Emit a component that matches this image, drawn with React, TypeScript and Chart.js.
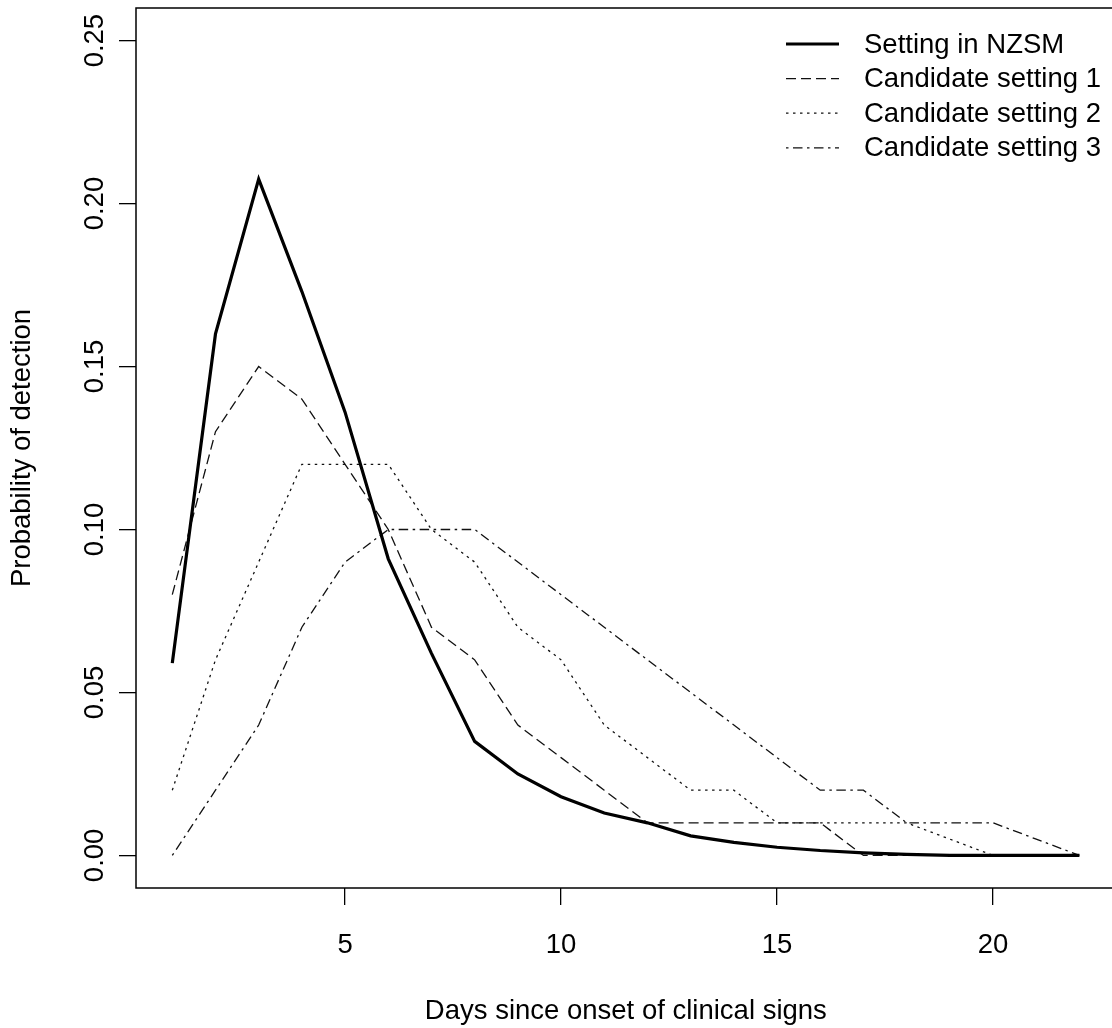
import React, { useEffect, useRef } from "react";
import { Chart, registerables } from "chart.js";

Chart.register(...registerables);

const days = [1, 2, 3, 4, 5, 6, 7, 8, 9, 10, 11, 12, 13, 14, 15, 16, 17, 18, 19, 20, 21, 22];
const settingNZSM = [0.059, 0.16, 0.2075, 0.173, 0.136, 0.091, 0.062, 0.035, 0.025, 0.018, 0.013, 0.01, 0.006, 0.004, 0.0025, 0.0015, 0.0008, 0.0003, 0, 0, 0, 0];
const candidate1 = [0.08, 0.13, 0.15, 0.14, 0.12, 0.1, 0.07, 0.06, 0.04, 0.03, 0.02, 0.01, 0.01, 0.01, 0.01, 0.01, 0, 0, 0, 0, 0, 0];
const candidate2 = [0.02, 0.06, 0.09, 0.12, 0.12, 0.12, 0.1, 0.09, 0.07, 0.06, 0.04, 0.03, 0.02, 0.02, 0.01, 0.01, 0.01, 0.01, 0.005, 0, 0, 0];
const candidate3 = [0, 0.02, 0.04, 0.07, 0.09, 0.1, 0.1, 0.1, 0.09, 0.08, 0.07, 0.06, 0.05, 0.04, 0.03, 0.02, 0.02, 0.01, 0.01, 0.01, 0.005, 0];
const seriesLabels = ["Setting in NZSM", "Candidate setting 1", "Candidate setting 2", "Candidate setting 3"];
const xTickValues = [5, 10, 15, 20];
const yTickValues = [0, 0.05, 0.1, 0.15, 0.2, 0.25];
const xTitle = "Days since onset of clinical signs";
const yTitle = "Probability of detection";

const FONT = "'Liberation Sans', Arial, sans-serif";
const FS = 27.5;
const CW = 1130;
const CH = 1028;

export default function App() {
  const ref = useRef<HTMLCanvasElement | null>(null);

  useEffect(() => {
    const canvas = ref.current;
    if (!canvas) return;
    const styles = [
      { color: "#000", width: 3.2, dash: [] as number[] },
      { color: "#111", width: 1.3, dash: [10, 5] },
      { color: "#111", width: 1.3, dash: [2.5, 4.5] },
      { color: "#111", width: 1.3, dash: [2.5, 4.5, 9.5, 4.5] },
    ];
    const values = [settingNZSM, candidate1, candidate2, candidate3];
    const datasets = values.map((vals, i) => ({
      label: seriesLabels[i],
      data: days.map((d, j) => ({ x: d, y: vals[j] })),
      borderColor: styles[i].color,
      borderWidth: styles[i].width,
      borderDash: styles[i].dash,
      pointRadius: 0,
      fill: false,
      tension: 0,
    }));

    const boxPlugin = {
      id: "rbox",
      afterDraw(chart: any) {
        const { ctx, chartArea } = chart;
        ctx.save();
        ctx.strokeStyle = "#000";
        ctx.lineWidth = 1.5;
        ctx.strokeRect(chartArea.left, chartArea.top, chartArea.right - chartArea.left, chartArea.bottom - chartArea.top);
        ctx.restore();
      },
    };

    const legendPlugin = {
      id: "rlegend",
      afterDraw(chart: any) {
        const { ctx } = chart;
        ctx.save();
        chart.data.datasets.forEach((ds: any, i: number) => {
          const y = 44 + i * 34.6;
          ctx.beginPath();
          ctx.strokeStyle = ds.borderColor;
          ctx.lineWidth = ds.borderWidth;
          ctx.setLineDash(ds.borderDash || []);
          ctx.moveTo(786, y);
          ctx.lineTo(839, y);
          ctx.stroke();
          ctx.setLineDash([]);
          ctx.fillStyle = "#000";
          ctx.font = `${FS}px ${FONT}`;
          ctx.textAlign = "left";
          ctx.textBaseline = "middle";
          ctx.fillText(ds.label, 864, y + 1);
        });
        ctx.restore();
      },
    };

    const chart = new Chart(canvas, {
      type: "line",
      data: { datasets },
      plugins: [boxPlugin, legendPlugin],
      options: {
        responsive: false,
        animation: false,
        events: [],
        layout: { padding: { left: 0, top: 8, right: CW - 1115.7, bottom: 0 } },
        plugins: { legend: { display: false }, tooltip: { enabled: false } },
        scales: {
          x: {
            type: "linear",
            min: 0.16,
            max: 22.84,
            afterBuildTicks: (s: any) => {
              s.ticks = xTickValues.map((v) => ({ value: v }));
            },
            afterFit: (s: any) => {
              s.height = 140;
              s.paddingLeft = 0;
              s.paddingRight = 0;
            },
            border: { display: false },
            grid: { drawOnChartArea: false, drawTicks: true, tickLength: 17, color: "#000", lineWidth: 1.3 },
            ticks: {
              color: "#000",
              font: { family: FONT, size: FS },
              padding: 24,
              maxRotation: 0,
              minRotation: 0,
              autoSkip: false,
              callback: (v: any) => String(v),
            },
            title: { display: true, text: xTitle, color: "#000", font: { family: FONT, size: FS }, padding: { top: 0, bottom: 0 } },
          },
          y: {
            type: "linear",
            min: -0.01,
            max: 0.26,
            afterBuildTicks: (s: any) => {
              s.ticks = yTickValues.map((v) => ({ value: v }));
            },
            afterFit: (s: any) => {
              s.width = 136;
              s.paddingTop = 0;
              s.paddingBottom = 0;
            },
            border: { display: false },
            grid: { drawOnChartArea: false, drawTicks: true, tickLength: 17, color: "#000", lineWidth: 1.3 },
            ticks: {
              color: "#000",
              font: { family: FONT, size: FS },
              padding: -3,
              minRotation: 90,
              maxRotation: 90,
              crossAlign: "center",
              autoSkip: false,
              callback: (v: any) => Number(v).toFixed(2),
            },
            title: { display: true, text: yTitle, color: "#000", font: { family: FONT, size: FS }, padding: { top: 6, bottom: 0 } },
          },
        },
      } as any,
    });
    return () => chart.destroy();
  }, []);

  return (
    <div style={{ position: "fixed", left: 0, top: 0, width: 1112, height: CH, overflow: "hidden", background: "#fff" }}>
      <canvas ref={ref} width={CW} height={CH} style={{ display: "block", width: CW, height: CH }} />
    </div>
  );
}
